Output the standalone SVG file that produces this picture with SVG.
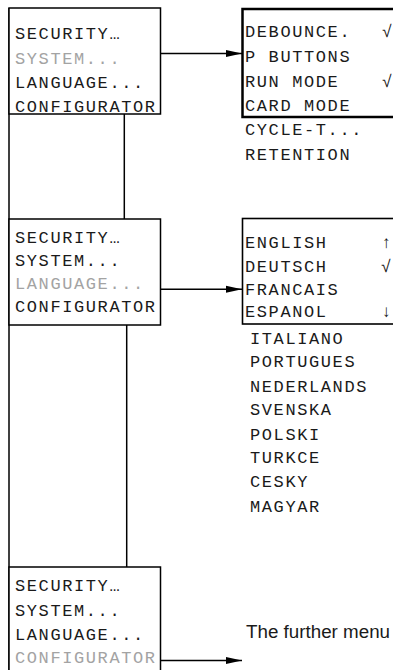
<svg xmlns="http://www.w3.org/2000/svg" width="393" height="670" viewBox="0 0 393 670">
<style>
.box{fill:#fff;stroke:#000;stroke-width:1.5}
.sub{fill:#fff;stroke:#000;stroke-width:2.5}
.sub2{fill:#fff;stroke:#000;stroke-width:1.6}
.ln{stroke:#000;stroke-width:1.5;fill:none}
.lcd{font-family:"Liberation Mono","DejaVu Sans Mono",monospace;font-size:17px;letter-spacing:1.6px;fill:#1a1a1a}
.dim{fill:#a3a3a3}
.note{font-family:"Liberation Sans",Arial,sans-serif;font-size:18.8px;fill:#1a1a1a}
</style>
<defs>
<marker id="ah" viewBox="0 0 16 8" refX="16" refY="4" markerWidth="16" markerHeight="8" markerUnits="userSpaceOnUse" orient="auto">
<path d="M0,0.5 L16,4 L0,7.5 Z" fill="#000"/>
</marker>
</defs>
<g id="connectors">
<line class="ln" x1="9" y1="8" x2="9" y2="670"/>
<line class="ln" x1="124.3" y1="114" x2="124.3" y2="219"/>
<line class="ln" x1="126.7" y1="325" x2="126.7" y2="567"/>
<line class="ln" x1="160.5" y1="53.5" x2="242" y2="53.5" marker-end="url(#ah)"/>
<line class="ln" x1="160.5" y1="289.3" x2="242" y2="289.3" marker-end="url(#ah)"/>
<line class="ln" x1="160.5" y1="660.5" x2="242" y2="660.5" marker-end="url(#ah)"/>
</g>
<g id="menu1">
<rect class="box" x="9" y="8" width="151.5" height="106"/>
<text class="lcd" x="15" y="39">SECURITY…</text>
<text class="lcd dim" x="15" y="63.5">SYSTEM...</text>
<text class="lcd" x="15" y="87.5">LANGUAGE...</text>
<text class="lcd" x="15" y="111.5">CONFIGURATOR</text>
</g>
<g id="system">
<rect class="sub" x="242.5" y="9" width="200" height="108"/>
<text class="lcd" x="245" y="37">DEBOUNCE.</text>
<text class="lcd" x="382" y="37">√</text>
<text class="lcd" x="245" y="61.5">P BUTTONS</text>
<text class="lcd" x="245" y="86.5">RUN MODE</text>
<text class="lcd" x="382" y="86.5">√</text>
<text class="lcd" x="245" y="111">CARD MODE</text>
<text class="lcd" x="245" y="135">CYCLE-T...</text>
<text class="lcd" x="245" y="160">RETENTION</text>
</g>
<g id="menu2">
<rect class="box" x="9" y="219" width="151.5" height="106"/>
<text class="lcd" x="15" y="242.7">SECURITY…</text>
<text class="lcd" x="15" y="266">SYSTEM...</text>
<text class="lcd dim" x="15" y="289.3">LANGUAGE...</text>
<text class="lcd" x="15" y="312.3">CONFIGURATOR</text>
</g>
<g id="language">
<rect class="sub2" x="242.5" y="218.5" width="200" height="105.5"/>
<text class="lcd" x="245" y="248.3">ENGLISH</text>
<text class="lcd" x="381" y="248.3">↑</text>
<text class="lcd" x="245" y="271.7">DEUTSCH</text>
<text class="lcd" x="381" y="271.7">√</text>
<text class="lcd" x="245" y="295">FRANCAIS</text>
<text class="lcd" x="245" y="317.3">ESPANOL</text>
<text class="lcd" x="381" y="317.3">↓</text>
<text class="lcd" x="250" y="344">ITALIANO</text>
<text class="lcd" x="250" y="367.3">PORTUGUES</text>
<text class="lcd" x="250" y="391.7">NEDERLANDS</text>
<text class="lcd" x="250" y="415">SVENSKA</text>
<text class="lcd" x="250" y="440">POLSKI</text>
<text class="lcd" x="250" y="463.3">TURKCE</text>
<text class="lcd" x="250" y="487.3">CESKY</text>
<text class="lcd" x="250" y="511.7">MAGYAR</text>
</g>
<g id="menu3">
<rect class="box" x="9" y="567" width="151.5" height="130"/>
<text class="lcd" x="15" y="590.7">SECURITY…</text>
<text class="lcd" x="15" y="615.7">SYSTEM...</text>
<text class="lcd" x="15" y="640">LANGUAGE...</text>
<text class="lcd dim" x="15" y="663.3">CONFIGURATOR</text>
</g>
<g id="note">
<text class="note" x="246" y="638">The further menu</text>
</g>
</svg>
